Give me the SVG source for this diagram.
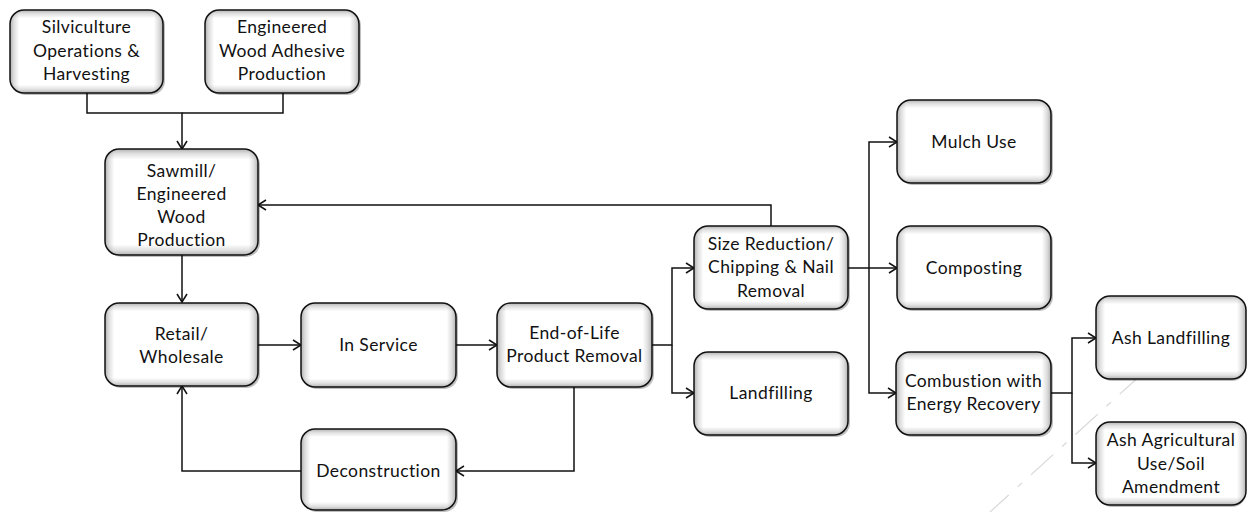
<svg xmlns="http://www.w3.org/2000/svg" width="1248" height="512" viewBox="0 0 1248 512">
<defs>
<style>
.sh{fill:#000;opacity:0.25}
.bg{fill:url(#gh)}
.box{fill:url(#gv);stroke:#111;stroke-width:1.5}
.lbl{font-family:Lato,"Liberation Sans",sans-serif;font-size:17.5px;letter-spacing:0.4px;fill:#111;text-anchor:middle}
.con{fill:none;stroke:#111;stroke-width:1.5}
.arr{marker-end:url(#ah)}
</style>
<linearGradient id="gh" x1="0" y1="0" x2="1" y2="0">
<stop offset="0" stop-color="#b0b0b0"/>
<stop offset="0.025" stop-color="#dcdcdc"/>
<stop offset="0.06" stop-color="#ffffff"/>
<stop offset="0.94" stop-color="#ffffff"/>
<stop offset="0.975" stop-color="#dcdcdc"/>
<stop offset="1" stop-color="#b0b0b0"/>
</linearGradient>
<linearGradient id="gv" x1="0" y1="0" x2="0" y2="1">
<stop offset="0" stop-color="#000" stop-opacity="0.3"/>
<stop offset="0.045" stop-color="#000" stop-opacity="0.12"/>
<stop offset="0.1" stop-color="#000" stop-opacity="0"/>
<stop offset="0.9" stop-color="#000" stop-opacity="0"/>
<stop offset="0.955" stop-color="#000" stop-opacity="0.12"/>
<stop offset="1" stop-color="#000" stop-opacity="0.3"/>
</linearGradient>
<marker id="ah" markerUnits="userSpaceOnUse" markerWidth="12" markerHeight="14" refX="9" refY="6" orient="auto">
<path d="M1,1 L9,6 L1,11" fill="none" stroke="#111" stroke-width="1.5"/>
</marker>
</defs>
<line x1="1142" y1="374" x2="990" y2="512" stroke="#c8c8c8" stroke-width="1.2" stroke-dasharray="30 12 6 12" opacity="0.7"/>
<g id="connectors">
<path class="con arr" d="M87,93 V113 H182 V149"/>
<path class="con" d="M283,93 V113 H182"/>
<path class="con arr" d="M182,255 V302"/>
<path class="con arr" d="M258,345 H301"/>
<path class="con arr" d="M456,345 H497"/>
<path class="con arr" d="M652,345 H672 V268 H694"/>
<path class="con arr" d="M672,345 V393 H694"/>
<path class="con arr" d="M574,387 V471 H456"/>
<path class="con arr" d="M301,471 H182 V386"/>
<path class="con arr" d="M771,226 V205 H258"/>
<path class="con arr" d="M848,268 H897"/>
<path class="con arr" d="M869,268 V142 H897"/>
<path class="con arr" d="M869,268 V393 H896"/>
<path class="con arr" d="M1051,393 H1072 V338 H1096"/>
<path class="con arr" d="M1072,393 V463 H1096"/>
</g>
<g id="silviculture"><rect class="sh" x="12" y="12" width="153" height="83" rx="14"/><rect class="bg" x="10" y="10" width="153" height="83" rx="14"/><rect class="box" x="10" y="10" width="153" height="83" rx="14"/>
<text class="lbl"><tspan x="86.5" y="33">Silviculture</tspan><tspan x="86.5" y="57">Operations &amp;</tspan><tspan x="86.5" y="80">Harvesting</tspan></text></g>
<g id="adhesive"><rect class="sh" x="207" y="12" width="154" height="83" rx="14"/><rect class="bg" x="205" y="10" width="154" height="83" rx="14"/><rect class="box" x="205" y="10" width="154" height="83" rx="14"/>
<text class="lbl"><tspan x="282" y="33">Engineered</tspan><tspan x="282" y="57">Wood Adhesive</tspan><tspan x="282" y="80">Production</tspan></text></g>
<g id="sawmill"><rect class="sh" x="107" y="151" width="153" height="106" rx="14"/><rect class="bg" x="105" y="149" width="153" height="106" rx="14"/><rect class="box" x="105" y="149" width="153" height="106" rx="14"/>
<text class="lbl"><tspan x="181.5" y="177">Sawmill/</tspan><tspan x="181.5" y="200">Engineered</tspan><tspan x="181.5" y="223">Wood</tspan><tspan x="181.5" y="246">Production</tspan></text></g>
<g id="retail"><rect class="sh" x="107" y="305" width="153" height="83" rx="14"/><rect class="bg" x="105" y="303" width="153" height="83" rx="14"/><rect class="box" x="105" y="303" width="153" height="83" rx="14"/>
<text class="lbl"><tspan x="181.5" y="340">Retail/</tspan><tspan x="181.5" y="363">Wholesale</tspan></text></g>
<g id="inservice"><rect class="sh" x="303" y="305" width="155" height="84" rx="14"/><rect class="bg" x="301" y="303" width="155" height="84" rx="14"/><rect class="box" x="301" y="303" width="155" height="84" rx="14"/>
<text class="lbl" x="378.5" y="351">In Service</text></g>
<g id="endoflife"><rect class="sh" x="499" y="305" width="155" height="84" rx="14"/><rect class="bg" x="497" y="303" width="155" height="84" rx="14"/><rect class="box" x="497" y="303" width="155" height="84" rx="14"/>
<text class="lbl"><tspan x="574.5" y="339">End-of-Life</tspan><tspan x="574.5" y="362">Product Removal</tspan></text></g>
<g id="deconstruction"><rect class="sh" x="303" y="431" width="155" height="81" rx="14"/><rect class="bg" x="301" y="429" width="155" height="81" rx="14"/><rect class="box" x="301" y="429" width="155" height="81" rx="14"/>
<text class="lbl" x="378.5" y="477">Deconstruction</text></g>
<g id="sizereduction"><rect class="sh" x="696" y="228" width="154" height="83" rx="14"/><rect class="bg" x="694" y="226" width="154" height="83" rx="14"/><rect class="box" x="694" y="226" width="154" height="83" rx="14"/>
<text class="lbl"><tspan x="771" y="250">Size Reduction/</tspan><tspan x="771" y="273">Chipping &amp; Nail</tspan><tspan x="771" y="297">Removal</tspan></text></g>
<g id="landfilling"><rect class="sh" x="696" y="354" width="154" height="83" rx="14"/><rect class="bg" x="694" y="352" width="154" height="83" rx="14"/><rect class="box" x="694" y="352" width="154" height="83" rx="14"/>
<text class="lbl" x="771" y="399">Landfilling</text></g>
<g id="mulch"><rect class="sh" x="899" y="102" width="154" height="83" rx="14"/><rect class="bg" x="897" y="100" width="154" height="83" rx="14"/><rect class="box" x="897" y="100" width="154" height="83" rx="14"/>
<text class="lbl" x="974" y="148">Mulch Use</text></g>
<g id="composting"><rect class="sh" x="899" y="228" width="154" height="83" rx="14"/><rect class="bg" x="897" y="226" width="154" height="83" rx="14"/><rect class="box" x="897" y="226" width="154" height="83" rx="14"/>
<text class="lbl" x="974" y="274">Composting</text></g>
<g id="combustion"><rect class="sh" x="898" y="354" width="155" height="83" rx="14"/><rect class="bg" x="896" y="352" width="155" height="83" rx="14"/><rect class="box" x="896" y="352" width="155" height="83" rx="14"/>
<text class="lbl"><tspan x="973.5" y="387">Combustion with</tspan><tspan x="973.5" y="410">Energy Recovery</tspan></text></g>
<g id="ashlandfilling"><rect class="sh" x="1098" y="298" width="148" height="83" rx="14"/><rect class="bg" x="1096" y="296" width="150" height="83" rx="14"/><rect class="box" x="1096" y="296" width="150" height="83" rx="14"/>
<text class="lbl" x="1171" y="344">Ash Landfilling</text></g>
<g id="ashagri"><rect class="sh" x="1098" y="424" width="148" height="83" rx="14"/><rect class="bg" x="1096" y="422" width="150" height="83" rx="14"/><rect class="box" x="1096" y="422" width="150" height="83" rx="14"/>
<text class="lbl"><tspan x="1171" y="446">Ash Agricultural</tspan><tspan x="1171" y="470">Use/Soil</tspan><tspan x="1171" y="493">Amendment</tspan></text></g>
</svg>
